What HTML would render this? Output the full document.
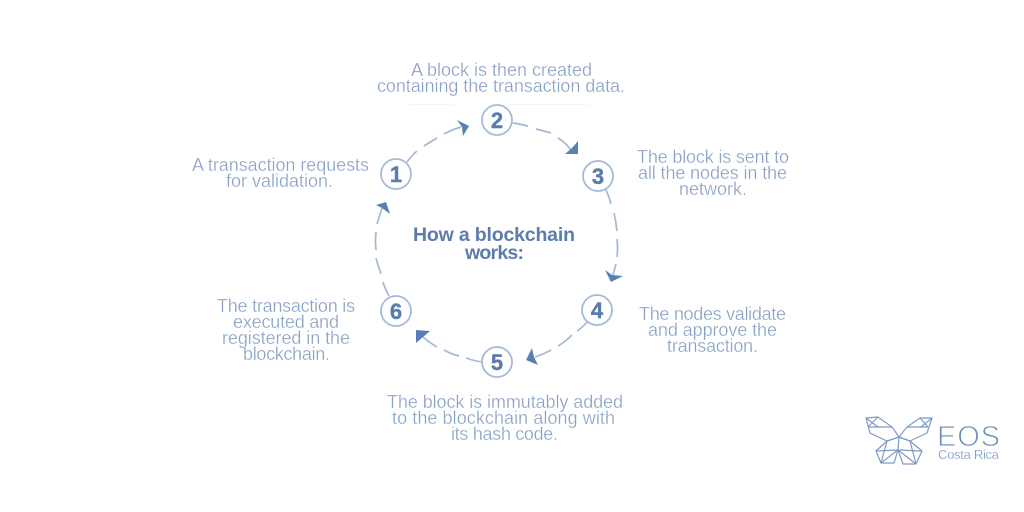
<!DOCTYPE html>
<html>
<head>
<meta charset="utf-8">
<style>
html,body{margin:0;padding:0;background:#fff;width:1024px;height:512px;overflow:hidden}
svg{display:block}
text{font-family:"Liberation Sans",sans-serif}
.t{font-size:18px;fill:#88a1c6;stroke:#fff;stroke-width:.28px}
.h{font-size:19.500px;font-weight:bold;fill:#5c7cab}
.n{font-size:22px;font-weight:bold;fill:#5a7dad;text-anchor:middle;stroke:#5a7dad;stroke-width:.4px}
.c{fill:#fff;stroke:#a3bad8;stroke-width:1.8}
.l{fill:none;stroke:#a3b9d6;stroke-width:1.7}
.a{fill:#5a80b2}
.b{fill:none;stroke:#7d9cc4;stroke-width:1.2;stroke-linejoin:round}
</style>
</head>
<body>
<svg width="1024" height="512" viewBox="0 0 1024 512" xmlns="http://www.w3.org/2000/svg">
<rect width="1024" height="512" fill="#fff"/>
<path d="M410 104.500H453M510 104.500H588" stroke="#f5f5f5" stroke-width="1"/>

<path class="l" d="M407 162Q412 155 417 151M424 146Q430 142 437 138M444 134Q451 130 461 127"/>
<path class="a" d="M469 126L457 120L462 127L463 136Z"/>
<path class="l" d="M513 123Q520 124 528 126M536 129Q544 131 551 133M558 138Q566 143 571 150"/>
<path class="a" d="M578 154L565 154L572 148L578 141Z"/>
<path class="l" d="M605 188Q609 196 611 204M614 213Q616 222 617 231M617 239Q618 249 617 257M616 264L613 275"/>
<path class="a" d="M611 282L605 270L612 275L623 276Z"/>
<path class="l" d="M587 322Q582 328 577 331M572 335Q565 342 558 346M551 350Q544 354 535 357"/>
<path class="a" d="M526 360L532 348L534 357L538 365Z"/>
<path class="l" d="M483 362Q474 361 466 358M459 356Q451 354 444 350M437 347Q430 343 423 337"/>
<path class="a" d="M416 330L430 331L423 337L416 343Z"/>
<path class="l" d="M389 296Q385 289 383 282M381 274Q378 266 376 258M376 250Q375 240 376 232M377 224L382 208"/>
<path class="a" d="M386 202L376 205L382 208L390 214Z"/>

<circle class="c" cx="396" cy="174" r="15"/>
<circle class="c" cx="497" cy="120" r="15"/>
<circle class="c" cx="598" cy="176" r="15"/>
<circle class="c" cx="597" cy="310" r="15"/>
<circle class="c" cx="497" cy="362" r="15"/>
<circle class="c" cx="396" cy="311" r="15"/>
<text class="n" x="396" y="182">1</text>
<text class="n" x="497" y="128">2</text>
<text class="n" x="598" y="184">3</text>
<text class="n" x="597" y="318">4</text>
<text class="n" x="497" y="370">5</text>
<text class="n" x="396" y="319">6</text>

<text class="h" x="413" y="241" textLength="162" lengthAdjust="spacing">How a blockchain</text>
<text class="h" x="465" y="259" textLength="59" lengthAdjust="spacing">works:</text>

<text class="t" x="411" y="76" textLength="181" lengthAdjust="spacing">A block is then created</text>
<text class="t" x="377" y="92" textLength="248" lengthAdjust="spacing">containing the transaction data.</text>
<text class="t" x="637" y="163" textLength="152" lengthAdjust="spacing">The block is sent to</text>
<text class="t" x="638" y="179" textLength="149" lengthAdjust="spacing">all the nodes in the</text>
<text class="t" x="679" y="195" textLength="68" lengthAdjust="spacing">network.</text>
<text class="t" x="192" y="171" textLength="177" lengthAdjust="spacing">A transaction requests</text>
<text class="t" x="226" y="187" textLength="107" lengthAdjust="spacing">for validation.</text>
<text class="t" x="639" y="320" textLength="147" lengthAdjust="spacing">The nodes validate</text>
<text class="t" x="648" y="336" textLength="129" lengthAdjust="spacing">and approve the</text>
<text class="t" x="667" y="352" textLength="91" lengthAdjust="spacing">transaction.</text>
<text class="t" x="217" y="312" textLength="138" lengthAdjust="spacing">The transaction is</text>
<text class="t" x="233" y="328" textLength="106" lengthAdjust="spacing">executed and</text>
<text class="t" x="222" y="344" textLength="128" lengthAdjust="spacing">registered in the</text>
<text class="t" x="243" y="360" textLength="87" lengthAdjust="spacing">blockchain.</text>
<text class="t" x="387" y="408" textLength="236" lengthAdjust="spacing">The block is immutably added</text>
<text class="t" x="392" y="424" textLength="223" lengthAdjust="spacing">to the blockchain along with</text>
<text class="t" x="451" y="440" textLength="107" lengthAdjust="spacing">its hash code.</text>

<g class="b">
<path d="M866 418L878 417L892 427L899 437L887 441L870 433Z"/>
<path d="M868 427L892 427M866 418L878 427M878 417L868 427"/>
<path d="M932 418L920 418L907 427L899 437L910 441L927 433Z"/>
<path d="M928 427L907 427M932 418L921 427M920 418L928 427"/>
<path d="M887 441L876 451L881 463L898 450L899 437"/>
<path d="M887 441L881 463M876 451L898 450"/>
<path d="M910 441L922 451L916 464L898 450"/>
<path d="M910 441L916 464M922 451L898 450"/>
<path d="M898 450L903 464L916 464M898 450L894 463L881 463"/>
<path d="M887 441L899 437L910 441"/>
</g>
<text x="937" y="446" font-size="29" fill="#6e90bd" stroke="#fff" stroke-width=".9" textLength="63" lengthAdjust="spacing">EOS</text>
<text x="938" y="459" font-size="13" fill="#7898c3" stroke="#fff" stroke-width=".2" textLength="61" lengthAdjust="spacing">Costa Rica</text>
</svg>
</body>
</html>
